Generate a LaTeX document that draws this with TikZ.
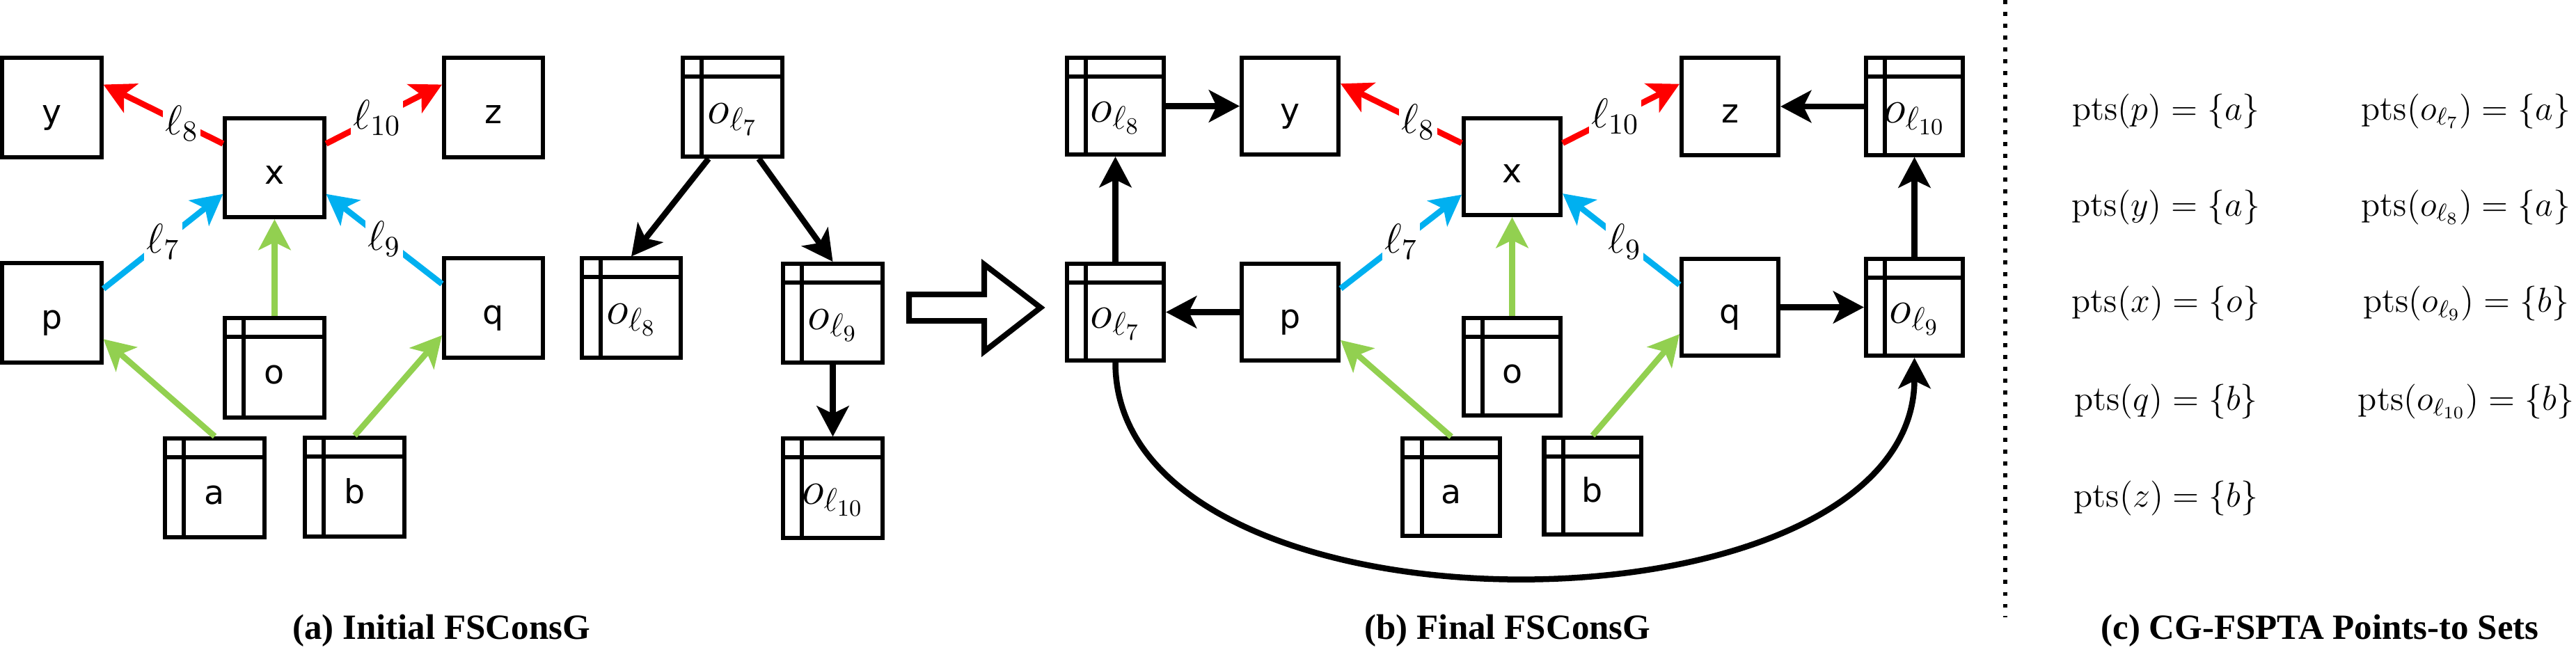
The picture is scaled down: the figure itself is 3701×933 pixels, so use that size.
\RequirePackage{fix-cm}
\documentclass[tikz,border=0pt]{standalone}
\usepackage{fontspec}
\newfontfamily\boxfont{DejaVu Sans}
\newfontfamily\capfont{Liberation Serif}
\usetikzlibrary{arrows.meta,calc}
\definecolor{ered}{RGB}{255,0,0}
\definecolor{eblue}{RGB}{0,176,240}
\definecolor{egreen}{RGB}{146,208,80}
\begin{document}
\begin{tikzpicture}[x=0.01cm,y=-0.01cm,
  box/.style={draw, line width=0.6mm, minimum width=14.2mm, minimum height=14.2mm, inner sep=0pt,
              text height=4.6mm, text depth=0mm, font=\boxfont\fontsize{13.5}{16}\selectfont},
  tbl/.style={box, path picture={
     \draw[line width=0.6mm] ([xshift=2.7mm]path picture bounding box.north west) -- ([xshift=2.7mm]path picture bounding box.south west);
     \draw[line width=0.6mm] ([yshift=-2.7mm]path picture bounding box.north west) -- ([yshift=-2.7mm]path picture bounding box.north east);}},
  mlab/.style={font=\fontsize{19}{22}\selectfont},
  conn/.style={draw=black, line width=0.85mm, -{Stealth[length=4.4mm,width=4.6mm,inset=1.1mm]}},
  lab/.style={fill=white, inner sep=1pt, font=\fontsize{17}{20}\selectfont},
  ptsl/.style={anchor=base, font=\fontsize{14.2}{17}\selectfont},
  capt/.style={anchor=base, font=\capfont\bfseries\fontsize{14.5}{17}\selectfont},
]
\useasboundingbox (0,0) rectangle (3701,933);

% ---------- panel (a) ----------
\node[box] (ay) at (74.5,154.5) {y};
\node[box] (ax) at (394.5,241) {x};
\node[box] (az) at (709,154.5) {z};
\node[box] (ap) at (74.5,449.5) {p};
\node[box] (aq) at (709,442.5) {q};
\node[tbl] (ao) at (394.5,528.5) {o};
\node[tbl] (aa) at (308.5,701) {a};
\node[tbl] (ab) at (509.5,700) {b};
\node[tbl,mlab] (aol7) at (1052.5,154) {$o_{\ell_7}$};
\node[tbl,mlab] (aol8) at (907,442.5) {$o_{\ell_8}$};
\node[tbl,mlab] (aol9) at (1196.5,450) {$o_{\ell_9}$};
\node[tbl,mlab] (aol10) at (1196.5,701.5) {$o_{\ell_{10}}$};

\draw[conn,draw=ered,-{Stealth[length=4.4mm,width=4.6mm,inset=1.1mm,color=ered]}] (ax.155) -- node[lab,pos=0.345]{$\ell_8$} (ay.24);
\draw[conn,draw=ered,-{Stealth[length=4.4mm,width=4.6mm,inset=1.1mm,color=ered]}] (ax.25) -- node[lab,pos=0.44]{$\ell_{10}$} (az.156);
\draw[conn,draw=eblue,-{Stealth[length=4.4mm,width=4.6mm,inset=1.1mm,color=eblue]}] (ap.25) -- node[lab,pos=0.5]{$\ell_7$} (ax.207);
\draw[conn,draw=eblue,-{Stealth[length=4.4mm,width=4.6mm,inset=1.1mm,color=eblue]}] (aq.155) -- node[lab,pos=0.5]{$\ell_9$} (ax.-27);
\draw[conn,draw=egreen,-{Stealth[length=4.4mm,width=4.6mm,inset=1.1mm,color=egreen]}] (aa.north) -- (ap.-27);
\draw[conn,draw=egreen,-{Stealth[length=4.4mm,width=4.6mm,inset=1.1mm,color=egreen]}] (ao.north) -- (ax.south);
\draw[conn,draw=egreen,-{Stealth[length=4.4mm,width=4.6mm,inset=1.1mm,color=egreen]}] (ab.north) -- (aq.208);
\draw[conn] (aol7.245) -- (aol8.north);
\draw[conn] (aol7.-63) -- (aol9.north);
\draw[conn] (aol9.south) -- (aol10.north);

% hollow arrow
\draw[line width=0.8mm] (1306,423) -- (1414,423) -- (1414,380) -- (1495,442) -- (1414,505) -- (1414,461) -- (1306,461) -- cycle;

% ---------- panel (b) ----------
\begin{scope}[box/.append style={minimum width=13.9mm, minimum height=13.9mm}]
\node[tbl,mlab] (bol8) at (1602.5,152.5) {$o_{\ell_8}$};
\node[box] (by) at (1853.5,152.5) {y};
\node[box] (bx) at (2172.5,239.5) {x};
\node[box] (bz) at (2485.5,153) {z};
\node[tbl,mlab] (bol10) at (2750.5,153) {$o_{\ell_{10}}$};
\node[tbl,mlab] (bol7) at (1602.5,448.5) {$o_{\ell_7}$};
\node[box] (bp) at (1853.5,448.5) {p};
\node[tbl] (bo) at (2172.5,527) {o};
\node[box] (bq) at (2485.5,441.5) {q};
\node[tbl,mlab] (bol9) at (2750.5,441.5) {$o_{\ell_9}$};
\node[tbl] (ba) at (2085,700) {a};
\node[tbl] (bb) at (2288,698.5) {b};
\end{scope}

\draw[conn,draw=ered,-{Stealth[length=4.4mm,width=4.6mm,inset=1.1mm,color=ered]}] (bx.155) -- node[lab,pos=0.36]{$\ell_8$} (by.24);
\draw[conn,draw=ered,-{Stealth[length=4.4mm,width=4.6mm,inset=1.1mm,color=ered]}] (bx.25) -- node[lab,pos=0.45]{$\ell_{10}$} (bz.156);
\draw[conn,draw=eblue,-{Stealth[length=4.4mm,width=4.6mm,inset=1.1mm,color=eblue]}] (bp.25) -- node[lab,pos=0.5]{$\ell_7$} (bx.209);
\draw[conn,draw=eblue,-{Stealth[length=4.4mm,width=4.6mm,inset=1.1mm,color=eblue]}] (bq.156) -- node[lab,pos=0.47]{$\ell_9$} (bx.-28);
\draw[conn,draw=egreen,-{Stealth[length=4.4mm,width=4.6mm,inset=1.1mm,color=egreen]}] (ba.north) -- (bp.-29);
\draw[conn,draw=egreen,-{Stealth[length=4.4mm,width=4.6mm,inset=1.1mm,color=egreen]}] (bo.north) -- (bx.south);
\draw[conn,draw=egreen,-{Stealth[length=4.4mm,width=4.6mm,inset=1.1mm,color=egreen]}] (bb.north) -- (bq.208);
\draw[conn] (bol8.east) -- (by.west);
\draw[conn] (bol7.north) -- (bol8.south);
\draw[conn] (bp.west) -- (bol7.east);
\draw[conn] (bol10.west) -- (bz.east);
\draw[conn] (bol9.north) -- (bol10.south);
\draw[conn] (bq.east) -- (bol9.west);
\draw[conn] (bol7.south) .. controls ($(bol7.south)+(0,415)$) and ($(bol9.south)+(0,415)$) .. (bol9.south);

% separator
\draw[line width=0.6mm, dash pattern=on 0.55mm off 1.15mm] (2881,0) -- (2881,887);

% ---------- panel (c) ----------
\node[ptsl] (c1) at (3112,172.5) {$\mathrm{pts}(p) = \{a\}$};
\node[ptsl] (c2) at (3112,310.5) {$\mathrm{pts}(y) = \{a\}$};
\node[ptsl] (c3) at (3112,448.5) {$\mathrm{pts}(x) = \{o\}$};
\node[ptsl] (c4) at (3112,589.5) {$\mathrm{pts}(q) = \{b\}$};
\node[ptsl] (c5) at (3112,728.5) {$\mathrm{pts}(z) = \{b\}$};
\node[ptsl] (d1) at (3543,172.5) {$\mathrm{pts}(o_{\ell_7}) = \{a\}$};
\node[ptsl] (d2) at (3543,310.5) {$\mathrm{pts}(o_{\ell_8}) = \{a\}$};
\node[ptsl] (d3) at (3543,448.5) {$\mathrm{pts}(o_{\ell_9}) = \{b\}$};
\node[ptsl] (d4) at (3543,589.5) {$\mathrm{pts}(o_{\ell_{10}}) = \{b\}$};

% captions
\node[capt] (capa) at (634,918) {(a) Initial FSConsG};
\node[capt] (capb) at (2166,918) {(b) Final FSConsG};
\node[capt] (capc) at (3333,918) {(c) CG-FSPTA Points-to Sets};
\end{tikzpicture}
\end{document}
